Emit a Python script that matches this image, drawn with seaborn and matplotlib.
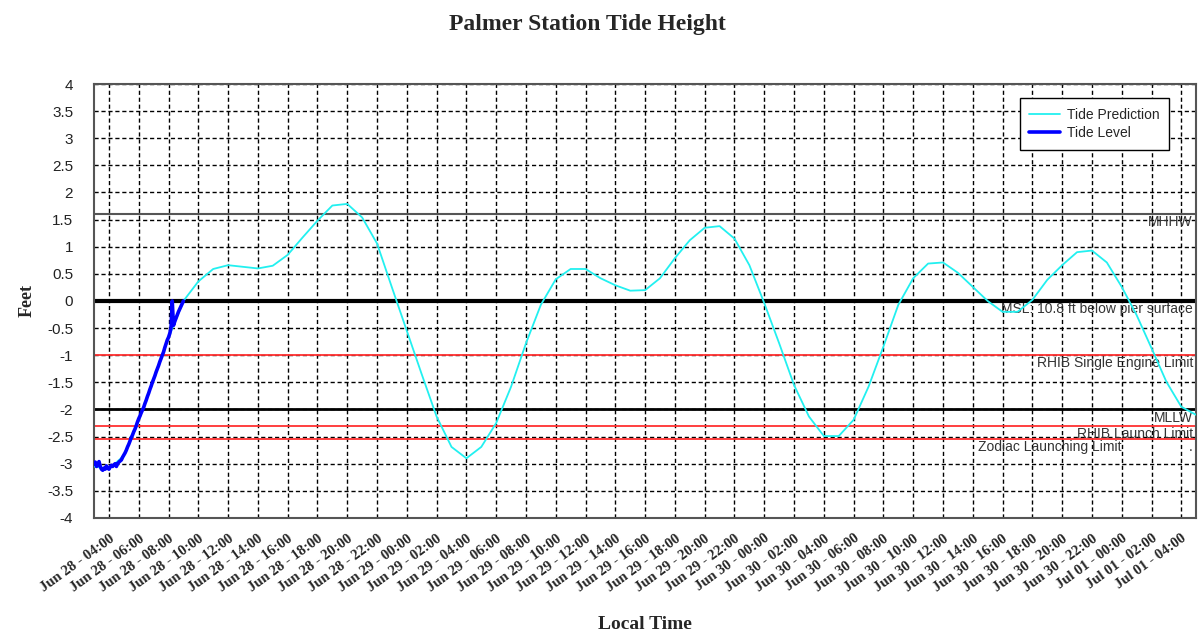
"""
Palmer Station tide height chart
"""
import numpy as np
import pandas as pd
import matplotlib
matplotlib.use('Agg')
import matplotlib.pyplot as plt
import matplotlib.dates as mdates
import matplotlib.transforms as mtransforms
import seaborn as sns

# Hourly tide prediction, Jun 28 03:00 -> Jul 01 05:00 (ft relative to MSL)
prediction_ft = [
    -3.05, -3.10, -2.85, -2.20, -1.45, -0.68, 0.00, 0.36, 0.59, 0.66,
    0.63, 0.60, 0.65, 0.85, 1.17, 1.48, 1.76, 1.79, 1.54, 1.06,
    0.25, -0.55, -1.35, -2.13, -2.69, -2.90, -2.69, -2.25, -1.58, -0.78,
    -0.07, 0.40, 0.59, 0.59, 0.42, 0.29, 0.19, 0.20, 0.42, 0.79,
    1.12, 1.35, 1.38, 1.15, 0.66, -0.04, -0.78, -1.55, -2.13, -2.49,
    -2.49, -2.19, -1.58, -0.84, -0.07, 0.42, 0.69, 0.71, 0.52, 0.26,
    0.00, -0.20, -0.20, 0.02, 0.39, 0.66, 0.90, 0.93, 0.71, 0.26,
    -0.26, -0.87, -1.49, -1.95, -2.10,
]

# Measured tide level, 5 minute samples, Jun 28 03:00 -> 09:00
level_ft = [
    -3.00, -2.97, -3.05, -3.02, -2.96, -3.05, -3.10, -3.12, -3.08, -3.10, -3.04, -3.08,
    -3.10, -3.06, -3.03, -3.05, -3.02, -3.00, -3.05, -3.00, -2.97, -2.95, -2.93, -2.88,
    -2.84, -2.80, -2.75, -2.69, -2.64, -2.58, -2.52, -2.47, -2.41, -2.36, -2.30, -2.23,
    -2.17, -2.12, -2.06, -2.01, -1.96, -1.89, -1.83, -1.76, -1.70, -1.63, -1.57, -1.50,
    -1.44, -1.38, -1.31, -1.25, -1.19, -1.12, -1.06, -1.00, -0.94, -0.86, -0.79, -0.72,
    -0.67, -0.60, -0.50, 0.00, -0.45, -0.38, -0.32, -0.26, -0.20, -0.15, -0.10, -0.05,
    0.00,
]

# Reference levels
ref_values = [1.6, 0.0, -1.0, -2.0, -2.3, -2.55]
ref_labels = ['MHHW', 'MSL: 10.8 ft below pier surface', 'RHIB Single Engine Limit',
              'MLLW', 'RHIB Launch Limit', 'Zodiac Launching Limit']
ref_colors = ['#555555', 'black', '#ff3030', 'black', '#ff3030', '#ff3030']
ref_widths = [1.5, 3.0, 1.3, 2.0, 1.3, 1.3]
ref_label_x = [0.997, 0.997, 0.997, 0.997, 0.997, 0.932]

pred_time = pd.date_range('2024-06-28 03:00', periods=len(prediction_ft), freq='h')
level_time = pd.date_range('2024-06-28 03:00', periods=len(level_ft), freq='5min')

pred_df = pd.DataFrame({'time': pred_time, 'feet': prediction_ft})
level_df = pd.DataFrame({'time': level_time, 'feet': level_ft})

sns.set_style('white')
plt.rcParams['font.family'] = ['Liberation Sans', 'DejaVu Sans']
serif = ['Liberation Serif', 'DejaVu Serif']

fig = plt.figure(figsize=(11.98, 6.34), dpi=100)
ax = fig.add_axes([0.0785, 0.183, 0.92, 0.6845])

# grid
ax.grid(True, color='black', linestyle=(0, (3, 2)), linewidth=1.0)
ax.set_axisbelow(True)

# reference lines
tr = mtransforms.blended_transform_factory(ax.transAxes, ax.transData)
for val, lab, col, lw, lx in zip(ref_values, ref_labels, ref_colors, ref_widths, ref_label_x):
    ax.axhline(val, color=col, linewidth=lw, zorder=2)
    ax.text(lx, val - 0.02, lab, transform=tr, ha='right', va='top',
            fontsize=10, color='#333333', zorder=3)
ax.text(0.997, -2.57, '.', transform=tr, ha='right', va='top', fontsize=10, color='#333333')

sns.lineplot(data=pred_df, x='time', y='feet', color='#22f0f0', linewidth=1.3,
             label='Tide Prediction', ax=ax, zorder=4)
sns.lineplot(data=level_df, x='time', y='feet', color='#0000ff', linewidth=2.6,
             label='Tide Level', ax=ax, zorder=5)

ax.set_xlim(pd.Timestamp('2024-06-28 03:00'), pd.Timestamp('2024-07-01 05:00'))
ax.set_ylim(-4, 4)
ax.set_yticks(np.arange(-4, 4.01, 0.5))
ax.set_yticklabels([f'{v:g}' for v in np.arange(-4, 4.01, 0.5)])

ax.xaxis.set_major_locator(mdates.HourLocator(byhour=range(0, 24, 2)))
ax.xaxis.set_major_formatter(mdates.DateFormatter('%b %d - %H:%M'))

ax.tick_params(axis='y', length=12, width=1.2, color='#333333', labelsize=11,
               labelcolor='#222222', pad=3)
ax.tick_params(axis='x', length=7, width=1.2, color='#333333', pad=3)
for lab in ax.get_xticklabels():
    lab.set_rotation(36)
    lab.set_ha('right')
    lab.set_rotation_mode('anchor')
    lab.set_family(serif)
    lab.set_fontweight('bold')
    lab.set_fontsize(10.5)

for sp in ax.spines.values():
    sp.set_color('#555555')
    sp.set_linewidth(1.5)

ax.set_xlabel('Local Time', family=serif, fontweight='bold', fontsize=14, labelpad=16)
ax.set_ylabel('Feet', family=serif, fontweight='bold', fontsize=13, labelpad=8)
fig.suptitle('Palmer Station Tide Height', x=0.49, y=0.978,
             family=serif, fontweight='bold', fontsize=17)

leg = ax.legend(loc='upper right', bbox_to_anchor=(0.9755, 0.968), fancybox=False,
                edgecolor='black', framealpha=1, fontsize=10, borderaxespad=0,
                handlelength=2.2, handletextpad=0.5, borderpad=0.7, labelspacing=0.3)
leg.get_frame().set_linewidth(1.0)
leg.set_zorder(10)

fig.savefig('out.png', dpi=100)
